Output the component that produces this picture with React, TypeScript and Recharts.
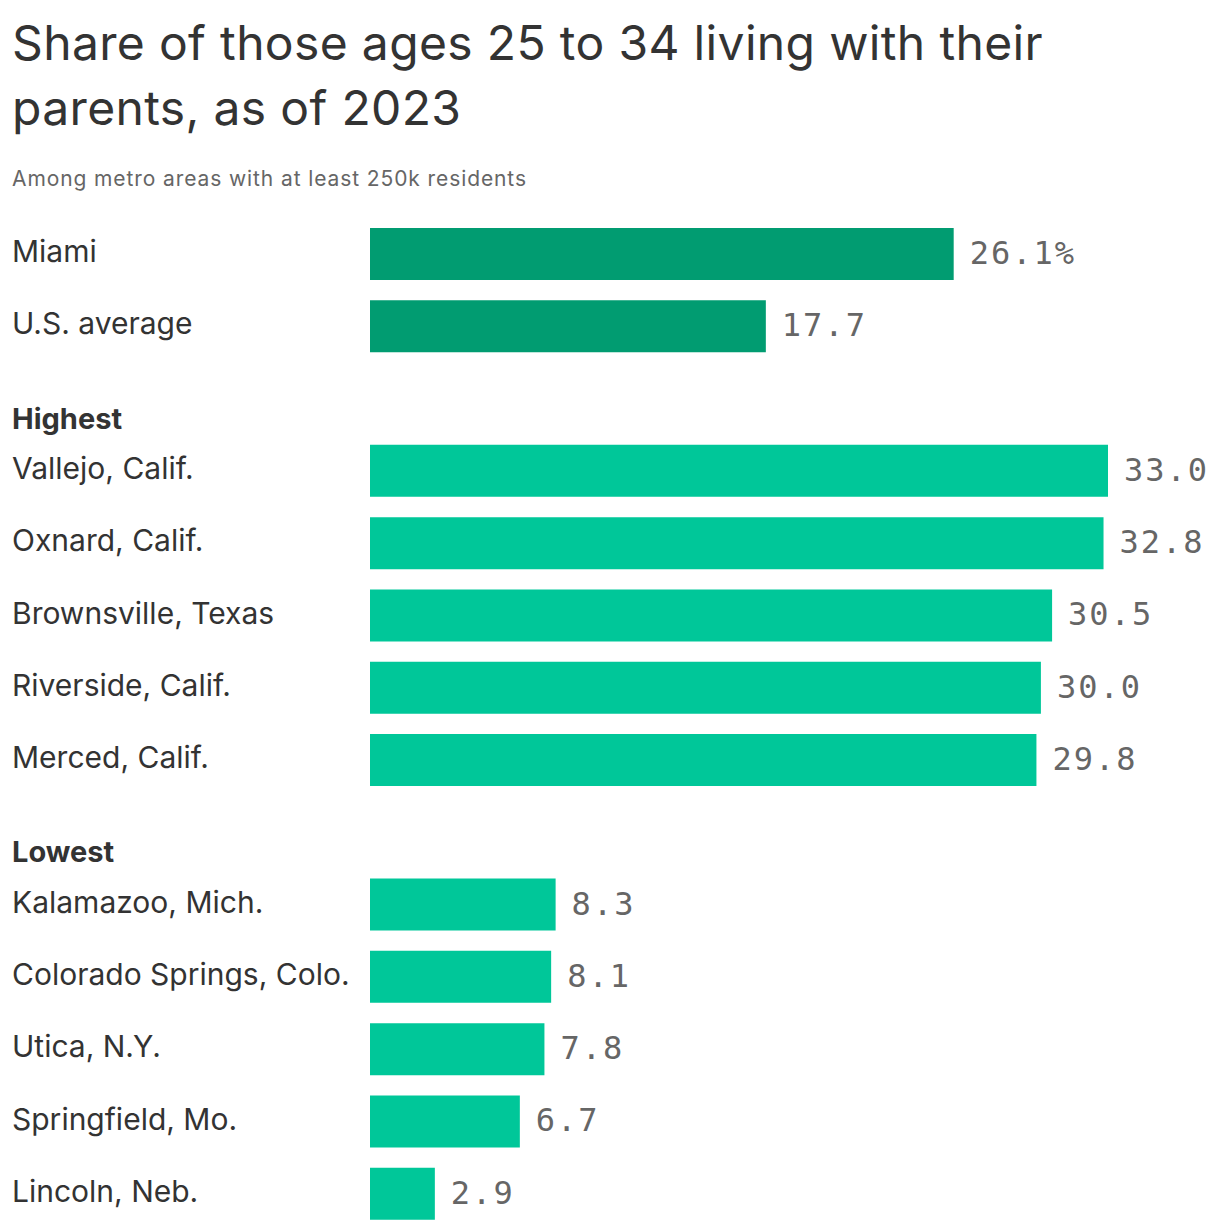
import React from "react";
import { Bar, BarChart, Cell, LabelList, XAxis, YAxis } from "recharts";

const categories = [
  "Miami",
  "U.S. average",
  "Highest",
  "Vallejo, Calif.",
  "Oxnard, Calif.",
  "Brownsville, Texas",
  "Riverside, Calif.",
  "Merced, Calif.",
  "Lowest",
  "Kalamazoo, Mich.",
  "Colorado Springs, Colo.",
  "Utica, N.Y.",
  "Springfield, Mo.",
  "Lincoln, Neb.",
];
const values = [26.1, 17.7, null, 33.0, 32.8, 30.5, 30.0, 29.8, null, 8.3, 8.1, 7.8, 6.7, 2.9];
const headers = ["Highest", "Lowest"];
const highlighted = ["Miami", "U.S. average"];

const data = categories.map((name, i) => ({ name, value: values[i] }));

const SANS = "Inter, 'Noto Sans', sans-serif";
const MONO = "'DejaVu Sans Mono', monospace";

function CategoryTick(props: any) {
  const { y, payload } = props;
  const isHeader = headers.includes(payload.value);
  return (
    <text
      x={12}
      y={isHeader ? y + 30 : y + 8}
      textAnchor="start"
      fill="#333"
      fontFamily={SANS}
      fontSize={isHeader ? 29 : 30}
      fontWeight={isHeader ? 700 : 400}
    >
      {payload.value}
    </text>
  );
}

function ValueLabel(props: any) {
  const { x, y, width, height, value, index } = props;
  if (value == null) return null;
  const text = index === 0 ? `${value.toFixed(1)}%` : value.toFixed(1);
  return (
    <text
      x={x + width + 16}
      y={y + height / 2 + 10}
      fill="#666"
      fontFamily={MONO}
      fontSize={32}
      letterSpacing={2}
    >
      {text}
    </text>
  );
}

export default function App() {
  return (
    <div style={{ position: "relative", width: 1220, height: 1230, background: "#fff" }}>
      <style>{`body{margin:0}`}</style>
      <div
        style={{
          position: "absolute",
          left: 12,
          top: 10,
          fontFamily: SANS,
          fontSize: 48,
          lineHeight: "65px",
          color: "#333",
          letterSpacing: 0.35,
          whiteSpace: "nowrap",
        }}
      >
        Share of those ages 25 to 34 living with their
        <br />
        parents, as of 2023
      </div>
      <div
        style={{
          position: "absolute",
          left: 12,
          top: 166,
          fontFamily: SANS,
          fontSize: 21,
          color: "#666",
          letterSpacing: 0.9,
          whiteSpace: "nowrap",
        }}
      >
        Among metro areas with at least 250k residents
      </div>
      <div style={{ position: "absolute", left: 0, top: 0 }}>
        <BarChart
          width={1220}
          height={1230}
          data={data}
          layout="vertical"
          margin={{ top: 218, right: 112, bottom: 0, left: 0 }}
        >
          <XAxis type="number" domain={[0, 33]} hide />
          <YAxis
            type="category"
            dataKey="name"
            width={370}
            axisLine={false}
            tickLine={false}
            interval={0}
            tick={<CategoryTick />}
          />
          <Bar dataKey="value" barSize={52} isAnimationActive={false}>
            {data.map((d) => (
              <Cell key={d.name} fill={highlighted.includes(d.name) ? "#019c71" : "#00c799"} />
            ))}
            <LabelList dataKey="value" content={<ValueLabel />} />
          </Bar>
        </BarChart>
      </div>
    </div>
  );
}
